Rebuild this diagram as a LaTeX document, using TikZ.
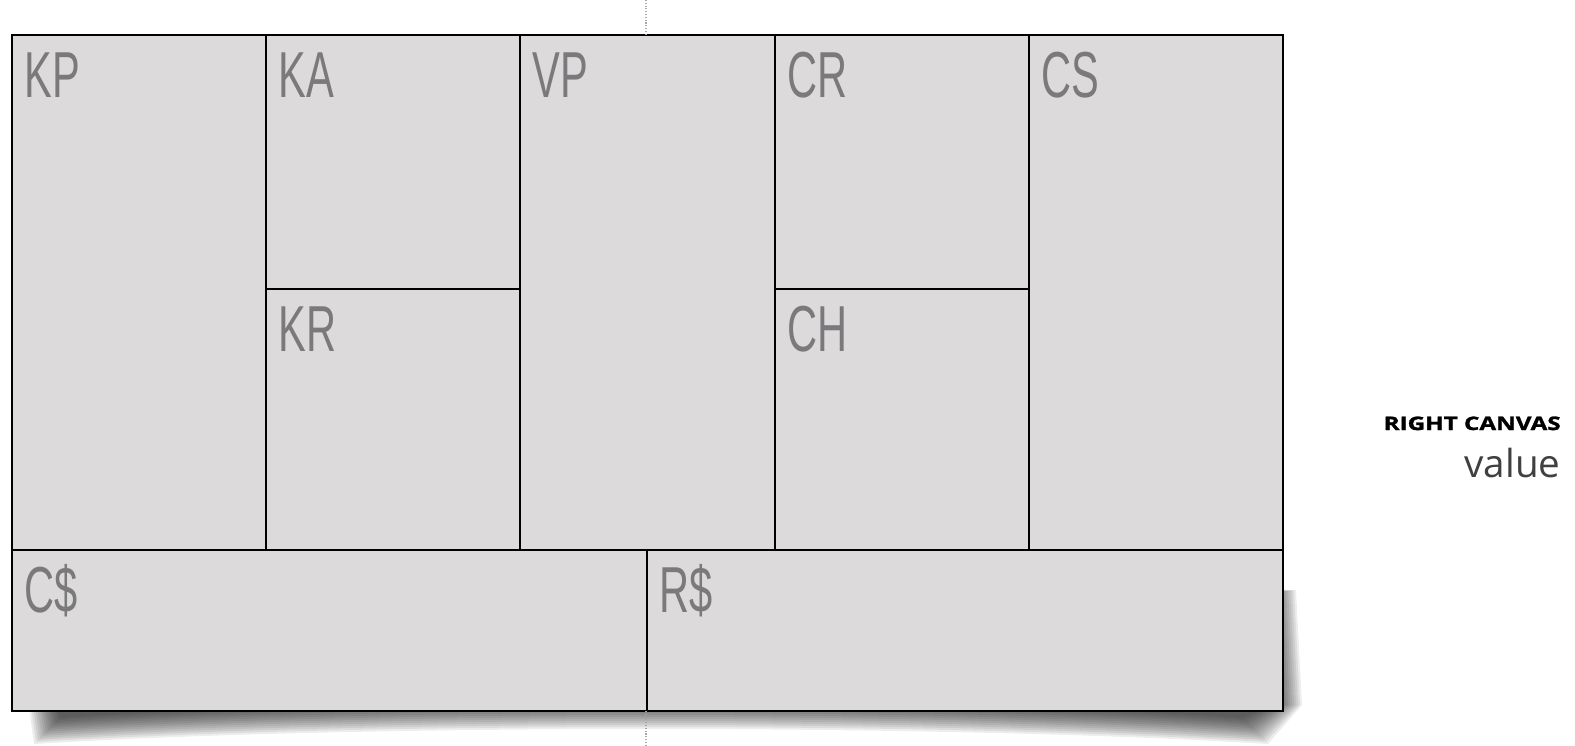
\documentclass[tikz,border=0pt]{standalone}
\usepackage{fontspec}
\usepackage{xcolor}
\usepackage{tikz}
\usetikzlibrary{positioning}
\newfontfamily\cellfont[FakeStretch=0.64]{Liberation Sans}
\newfontfamily\headfont[FakeStretch=1.3, FakeBold=1.5]{Open Sans}
\newfontfamily\valuefont{Open Sans}
\definecolor{cellgray}{RGB}{220,218,219}
\definecolor{labelgray}{RGB}{122,122,124}

\begin{document}
\begin{tikzpicture}[
    x=0.02cm, y=-0.02cm,
    cell/.style={draw, line width=0.9pt, fill=cellgray, anchor=north west, inner sep=0pt, outer sep=0pt},
    lbl/.style={anchor=base west, inner sep=0pt, text=labelgray, font=\cellfont\fontsize{37}{40}\selectfont},
    guide/.style={draw=gray!70, densely dotted, line width=0.6pt}
]
\useasboundingbox (0,0) rectangle (1575,745);
% curled shadow under the canvas
\foreach \s in {0,2,...,26}
  \fill[black, opacity=0.07] (28+\s,700) -- (34+\s,744-\s) .. controls (350,724-\s) and (950,724-\s) .. (1268-\s,744-\s) -- (1302-\s,705) -- (1296-\s,590) -- cycle;
\node[cell, minimum width=5.08cm, minimum height=10.3cm] (kp) at (12,35) {};
\node[cell, minimum width=5.08cm, minimum height=5.08cm] (ka) at (266,35) {};
\node[cell, minimum width=5.08cm, minimum height=5.22cm] (kr) at (266,289) {};
\node[cell, minimum width=5.1cm, minimum height=10.3cm] (vp) at (520,35) {};
\node[cell, minimum width=5.08cm, minimum height=5.08cm] (cr) at (775,35) {};
\node[cell, minimum width=5.08cm, minimum height=5.22cm] (ch) at (775,289) {};
\node[cell, minimum width=5.08cm, minimum height=10.3cm] (cs) at (1029,35) {};
\node[cell, minimum width=12.7cm, minimum height=3.22cm] (cost) at (12,550) {};
\node[cell, minimum width=12.72cm, minimum height=3.22cm] (rev) at (647,550) {};
\foreach \c/\t in {kp/KP, ka/KA, kr/KR, vp/VP, cr/CR, ch/CH, cs/CS, cost/C\$, rev/R\$}
  \node[lbl] (\c-lbl) at ([shift={(12,62)}]\c.north west) {\t};
% fold guides
\coordinate (foldtop) at (646,0);
\coordinate (foldbot) at (646,745);
\draw[guide] (foldtop) -- (foldtop |- kp.north);
\draw[guide] (foldbot |- cost.south) -- (foldbot);
\node[anchor=base east, inner sep=0pt, font=\headfont\bfseries\fontsize{10.6}{12}\selectfont] (side) at (1561,430) {RIGHT CANVAS};
\node[anchor=base east, inner sep=0pt, text=black!75, font=\valuefont\fontsize{22}{24}\selectfont] (sideval) at (1561,477) {value};
\end{tikzpicture}
\end{document}
